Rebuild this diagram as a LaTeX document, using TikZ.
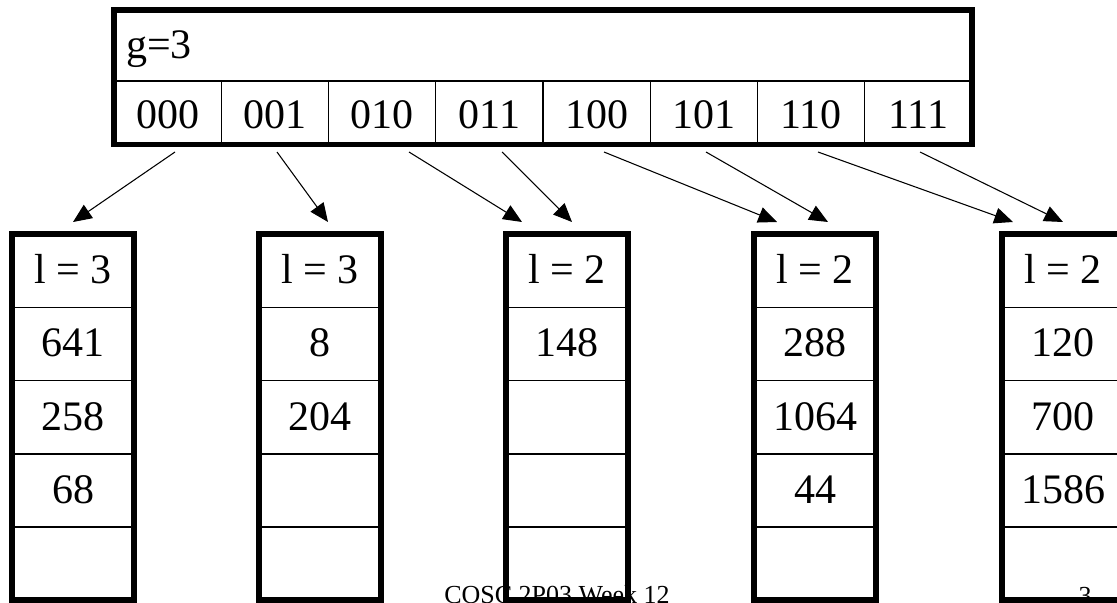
\documentclass[tikz,border=0pt]{standalone}
\usepackage{fontspec}
\setmainfont{Liberation Serif}
\usetikzlibrary{arrows.meta}

\begin{document}
\begin{tikzpicture}[x=0.75pt,y=-0.75pt,
  dirframe/.style={line width=3.9pt},
  bucketframe/.style={line width=4.6pt},
  rule/.style={line width=1.1pt},
  cell/.style={inner sep=0pt, anchor=base, font=\fontsize{31.5}{36}\selectfont},
  link/.style={line width=0.8pt, -{Triangle[length=14pt,width=12pt]}},
  foot/.style={inner sep=0pt, anchor=base west, font=\fontsize{19.5}{22}\selectfont}]
\useasboundingbox (0,0) rectangle (1117,603);

% footer (lies under the buckets)
\node[foot] (foot) at (444,603) {COSC 2P03 Week 12};
\node[foot, anchor=base] (page) at (1085,604) {3};

% directory with global depth
\node[cell, anchor=base west] (depth) at (126,58) {g=3};
\draw[rule] (114,81) -- (972,81);
\foreach \i in {1,...,7}
  \draw[rule] ({114+107.25*\i},81) -- ({114+107.25*\i},144.5);
\foreach \b [count=\i from 0] in {000,001,010,011,100,101,110,111}
  \node[cell] (d\i) at ({167.6+107.25*\i},128) {\b};
\draw[dirframe] (114,10) rectangle (972,144.5);

% buckets: row rules, then the heavy frame
\foreach \x in {12,259,506,754,1002}{
  \foreach \r in {1,2,3,4}
    \draw[rule] (\x,{234+73.3*\r}) -- ({\x+122},{234+73.3*\r});
  \draw[bucketframe] (\x,234) rectangle ({\x+122},600.5);
}

% bucket 1
\node[cell] (a0) at (73,283.5) {l = 3};
\node[cell] (a1) at (73,356.8) {641};
\node[cell] (a2) at (73,430.1) {258};
\node[cell] (a3) at (73,503.4) {68};
% bucket 2
\node[cell] (b0) at (320,283.5) {l = 3};
\node[cell] (b1) at (320,356.8) {8};
\node[cell] (b2) at (320,430.1) {204};
% bucket 3
\node[cell] (c0) at (567,283.5) {l = 2};
\node[cell] (c1) at (567,356.8) {148};
% bucket 4
\node[cell] (e0) at (815,283.5) {l = 2};
\node[cell] (e1) at (815,356.8) {288};
\node[cell] (e2) at (815,430.1) {1064};
\node[cell] (e3) at (815,503.4) {44};
% bucket 5
\node[cell] (f0) at (1063,283.5) {l = 2};
\node[cell] (f1) at (1063,356.8) {120};
\node[cell] (f2) at (1063,430.1) {700};
\node[cell] (f3) at (1063,503.4) {1586};

% pointer ends
\coordinate (t0) at (175,152);  \coordinate (h0) at (73,222);
\coordinate (t1) at (277,152);  \coordinate (h1) at (328,222);
\coordinate (t2) at (409,152);  \coordinate (h2) at (522,222);
\coordinate (t3) at (502,152);  \coordinate (h3) at (572,222);
\coordinate (t4) at (604,152);  \coordinate (h4) at (777,222);
\coordinate (t5) at (706,152);  \coordinate (h5) at (828,222);
\coordinate (t6) at (818,152);  \coordinate (h6) at (1013,222);
\coordinate (t7) at (920,152);  \coordinate (h7) at (1063,222);
\foreach \i in {0,...,7}
  \draw[link] (t\i) -- (h\i);
\end{tikzpicture}
\end{document}
